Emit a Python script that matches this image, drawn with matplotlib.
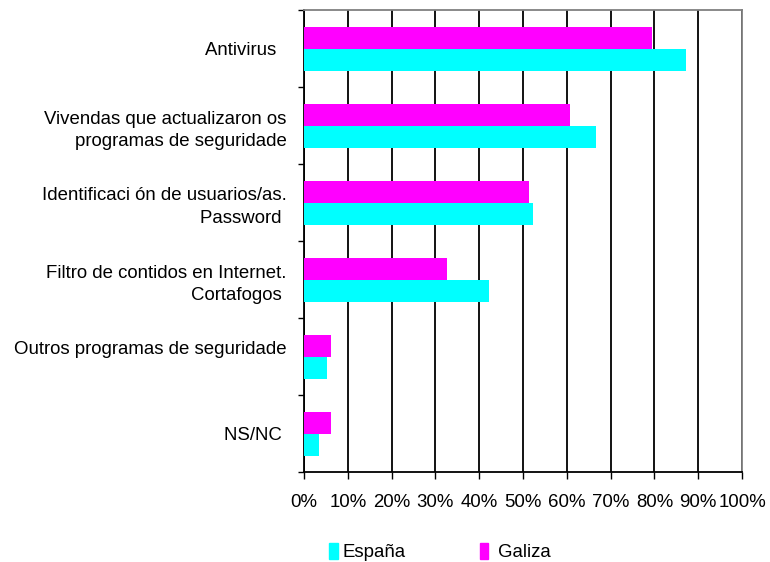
import matplotlib.pyplot as plt
import numpy as np
from matplotlib.patches import Patch

categories = [
    "Antivirus  ",
    "Vivendas que actualizaron os\nprogramas de seguridade",
    "Identificaci ón de usuarios/as.\nPassword ",
    "Filtro de contidos en Internet.\nCortafogos ",
    "Outros programas de seguridade\n ",
    "NS/NC ",
]
espana = [87.3, 66.7, 52.3, 42.3, 5.3, 3.4]
galiza = [79.5, 60.7, 51.4, 32.7, 6.2, 6.2]

plt.rcParams["font.family"] = ["Liberation Sans", "DejaVu Sans"]
FS = 13.4

fig = plt.figure(figsize=(7.7, 5.62), dpi=100)
ax = fig.add_axes([304 / 770, 1 - 472 / 562, 438 / 770, 462 / 562])

y = np.arange(len(categories))
h = 0.285
ax.barh(y - h / 2 + 0.01, galiza, height=h, color="#FF00FF", zorder=3)
ax.barh(y + h / 2 + 0.01, espana, height=h, color="#00FFFF", zorder=3)

ax.set_xlim(0, 100)
ax.set_ylim(len(categories) - 0.5, -0.5)

ax.set_xticks(np.arange(0, 101, 10))
ax.set_xticklabels([f"{v}%" for v in range(0, 101, 10)], fontsize=FS)
ax.tick_params(axis="x", direction="out", length=5, width=1, pad=11, color="black")
ax.xaxis.grid(True, color="black", linewidth=1.3, zorder=0)

ax.set_yticks(y)
ax.set_yticklabels(categories, fontsize=FS, linespacing=1.42)
ax.tick_params(axis="y", which="major", length=0, pad=12.5)
ax.set_yticks(np.arange(-0.5, len(categories), 1), minor=True)
ax.tick_params(axis="y", which="minor", direction="out", length=4, width=1, color="black")

for side in ["left", "bottom"]:
    ax.spines[side].set_color("black")
    ax.spines[side].set_linewidth(1.3)
for side in ["top", "right"]:
    ax.spines[side].set_color("#808080")
    ax.spines[side].set_linewidth(1.3)

handles = [Patch(color="#00FFFF", label="España"), Patch(color="#FF00FF", label=" Galiza")]
fig.legend(
    handles=handles,
    loc="center",
    bbox_to_anchor=(440 / 770, 1 - 552 / 562),
    ncol=2,
    frameon=False,
    fontsize=FS,
    handlelength=0.45,
    handleheight=1.0,
    handletextpad=0.25,
    columnspacing=4.0,
)

plt.savefig("out.png", dpi=100)
